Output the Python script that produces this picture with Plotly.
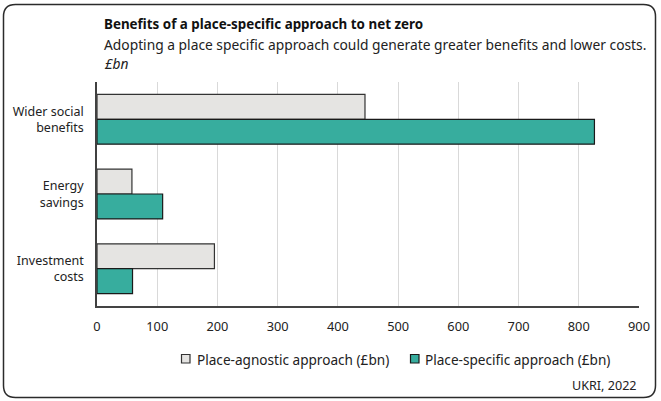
import plotly.graph_objects as go

categories = ["Wider social benefits", "Energy savings", "Investment costs"]
tick_labels = ["Wider social<br>benefits", "Energy<br>savings", "Investment<br>costs"]
place_agnostic = [445, 58, 195]
place_specific = [826, 109, 59]
x_ticks = [0, 100, 200, 300, 400, 500, 600, 700, 800, 900]
series_names = ["Place-agnostic approach (£bn)", "Place-specific approach (£bn)"]
series_colors = ["#e5e4e2", "#37ad9e"]
series_edges = ["#333333", "#1a1a1a"]

W, H = 661, 401
ML, MR, MT, MB = 97, 22, 82, 95
PW, PH = W - ML - MR, H - MT - MB
FONT = "Noto Sans"


def px(x):
    return (x - ML) / PW


def py(y):
    return (H - MB - y) / PH


fig = go.Figure()
for vals, name, col, edge in zip([place_agnostic, place_specific], series_names,
                                 series_colors, series_edges):
    fig.add_trace(go.Bar(
        y=categories, x=vals, orientation="h", name=name, showlegend=False,
        marker=dict(color=col, line=dict(color=edge, width=1.2)),
    ))

# rounded frame
x0, x1, y0, y1, r = 3.5, 655.5, 4.5, 397.5, 12


def P(x, y):
    return f"{px(x):.5f},{py(y):.5f}"


path = (f"M {P(x0 + r, y0)} L {P(x1 - r, y0)} Q {P(x1, y0)} {P(x1, y0 + r)} "
        f"L {P(x1, y1 - r)} Q {P(x1, y1)} {P(x1 - r, y1)} "
        f"L {P(x0 + r, y1)} Q {P(x0, y1)} {P(x0, y1 - r)} "
        f"L {P(x0, y0 + r)} Q {P(x0, y0)} {P(x0 + r, y0)} Z")
fig.add_shape(type="path", path=path, xref="paper", yref="paper",
              line=dict(color="#2b2b2b", width=1.5), layer="below")

# legend (manual)
legend_sq_x = [181.5, 410.5]
legend_txt_x = [194.5, 423]
LEG_Y = 359
for sx, tx, name, col, edge in zip(legend_sq_x, legend_txt_x, series_names,
                                   series_colors, series_edges):
    fig.add_shape(type="rect", xref="paper", yref="paper",
                  x0=px(sx), x1=px(sx + 8.5), y0=py(LEG_Y - 4.5), y1=py(LEG_Y + 4),
                  fillcolor=col, line=dict(color=edge, width=1.2))
    fig.add_annotation(text=name, x=px(tx), y=py(LEG_Y), xref="paper", yref="paper",
                       xanchor="left", yanchor="middle", showarrow=False,
                       font=dict(family=FONT, size=13.6, color="#222222"))

fig.add_annotation(text="<b>Benefits of a place-specific approach to net zero</b>",
                   x=px(101.5), y=py(24.5), xref="paper", yref="paper",
                   xanchor="left", yanchor="middle", showarrow=False,
                   font=dict(family=FONT, size=13.4, color="#111111"))
fig.add_annotation(text="Adopting a place specific approach could generate greater benefits and lower costs.",
                   x=px(101.5), y=py(44.5), xref="paper", yref="paper",
                   xanchor="left", yanchor="middle", showarrow=False,
                   font=dict(family=FONT, size=13.8, color="#222222"))
fig.add_annotation(text="<i>£bn</i>",
                   x=px(101.5), y=py(63.5), xref="paper", yref="paper",
                   xanchor="left", yanchor="middle", showarrow=False,
                   font=dict(family=FONT, size=13.8, color="#222222"))
fig.add_annotation(text="UKRI, 2022",
                   x=px(638.5), y=py(385), xref="paper", yref="paper",
                   xanchor="right", yanchor="middle", showarrow=False,
                   font=dict(family=FONT, size=12.6, color="#222222"))

fig.update_layout(
    width=W, height=H,
    margin=dict(l=ML, r=MR, t=MT, b=MB, pad=0, autoexpand=False),
    paper_bgcolor="white", plot_bgcolor="white",
    barmode="group", bargap=1/3, bargroupgap=0,
    font=dict(family=FONT, size=12.8, color="#222222"),
    showlegend=False,
    xaxis=dict(range=[0, 900], tickvals=x_ticks, showgrid=True, gridcolor="#d9d9d9",
               gridwidth=1.2, zeroline=False, showline=True, linecolor="#444444",
               linewidth=1.5, ticks="", ticklabelstandoff=8, automargin=False,
               fixedrange=True),
    yaxis=dict(categoryorder="array", categoryarray=categories, autorange="reversed",
               tickvals=categories, ticktext=tick_labels, showgrid=False,
               showline=True, linecolor="#404040", linewidth=1.6, ticks="",
               ticklabelstandoff=9, automargin=False, fixedrange=True,
               tickfont=dict(family=FONT, size=12.5, color="#222222")),
)

fig.write_html("out.html", config={"displayModeBar": False},
               post_script="document.body.style.margin='0px';")
